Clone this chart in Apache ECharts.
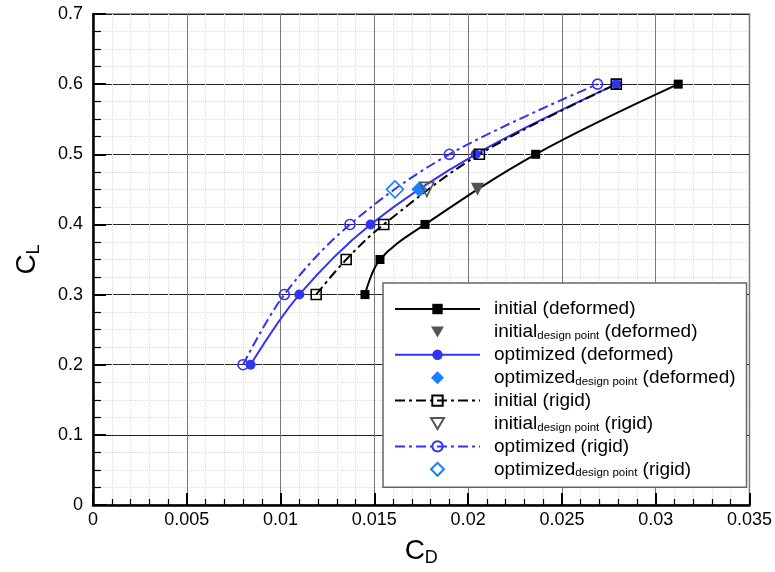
<!DOCTYPE html>
<html><head><meta charset="utf-8">
<script src="https://cdn.jsdelivr.net/npm/echarts@6/dist/echarts.min.js"></script>
<style>html,body{margin:0;padding:0;background:#fff}#c{width:775px;height:572px}</style>
</head><body><div id="c"></div>
<script>
const xTicks = [0, 0.005, 0.01, 0.015, 0.02, 0.025, 0.03, 0.035];
const yTicks = [0, 0.1, 0.2, 0.3, 0.4, 0.5, 0.6, 0.7];

const initialDeformed = [[0.0145,0.30],[0.0153,0.35],[0.0177,0.40],[0.0236,0.50],[0.0312,0.60]];
const initialDesignDeformed = [[0.0205,0.45]];
const optimizedDeformed = [[0.0084,0.20],[0.0110,0.30],[0.0148,0.40],[0.0204,0.50],[0.0279,0.60]];
const optimizedDesignDeformed = [[0.0174,0.45]];
const initialRigid = [[0.0119,0.30],[0.0135,0.35],[0.0155,0.40],[0.0206,0.50],[0.0279,0.60]];
const initialDesignRigid = [[0.0178,0.45]];
const optimizedRigid = [[0.0080,0.20],[0.0102,0.30],[0.0137,0.40],[0.0190,0.50],[0.0269,0.60]];
const optimizedDesignRigid = [[0.0161,0.45]];

const names = [
  'initial (deformed)',
  'initial{sub|design point} (deformed)',
  'optimized (deformed)',
  'optimized{sub|design point} (deformed)',
  'initial (rigid)',
  'initial{sub|design point} (rigid)',
  'optimized (rigid)',
  'optimized{sub|design point} (rigid)'
];

const BLUE = '#3333f5';
const DBLUE = '#1a80ff';
const dashDot = [10, 4, 3, 4];
const noLine = { width: 0, opacity: 0 };

// legend icons: shape centred in an 85x13 box (corner points keep the box size)
const BOX = 'M0,0 L0,0 M85,13 L85,13 ';
const triIcon = 'path://' + BOX + 'M36,1 L49,1 L42.5,12 Z';
const diaIcon = 'path://' + BOX + 'M42.5,0 L49,6.5 L42.5,13 L36,6.5 Z';

const chart = echarts.init(document.getElementById('c'));
const font = 'Liberation Sans, Arial, Helvetica, sans-serif';

chart.setOption({
  animation: false,
  textStyle: { fontFamily: font },
  grid: { left: 93, right: 24, top: 14, bottom: 65, show: true, borderColor: '#777', borderWidth: 1.5, backgroundColor: 'transparent' },
  xAxis: {
    type: 'value', min: xTicks[0], max: xTicks[xTicks.length-1], interval: 0.005,
    name: 'C{sub|D}', nameLocation: 'middle', nameGap: 30,
    nameTextStyle: { fontSize: 28, color: '#000', fontFamily: font, rich: { sub: { fontSize: 18, verticalAlign: 'bottom', padding: [14,0,0,0], fontFamily: font } } },
    axisLine: { show: true, lineStyle: { color: '#000', width: 2.5 } },
    axisTick: { show: true, inside: true, length: 12, lineStyle: { color: '#000', width: 2 } },
    minorTick: { show: true, splitNumber: 5, length: 6, lineStyle: { color: '#000', width: 1.2 } },
    axisLabel: { fontSize: 18, color: '#000', margin: 6, fontFamily: font, formatter: v => String(+v.toFixed(4)) },
    splitLine: { show: true, lineStyle: { color: '#777', width: 1 } },
    minorSplitLine: { show: true, lineStyle: { color: '#ddd', width: 1, type: 'dotted' } }
  },
  yAxis: {
    type: 'value', min: yTicks[0], max: yTicks[yTicks.length-1], interval: 0.1,
    name: 'C{sub|L}', nameLocation: 'middle', nameGap: 50, nameRotate: 90,
    nameTextStyle: { fontSize: 28, color: '#000', fontFamily: font, rich: { sub: { fontSize: 18, verticalAlign: 'bottom', padding: [14,0,0,0], fontFamily: font } } },
    axisLine: { show: true, lineStyle: { color: '#000', width: 2.5 } },
    axisTick: { show: true, inside: true, length: 13, lineStyle: { color: '#000', width: 2 } },
    minorTick: { show: true, splitNumber: 4, length: 8, lineStyle: { color: '#000', width: 1.2 } },
    axisLabel: { fontSize: 18, color: '#000', margin: 10, fontFamily: font, formatter: v => String(+v.toFixed(2)) },
    splitLine: { show: true, lineStyle: { color: '#222', width: 1 } },
    minorSplitLine: { show: true, lineStyle: { color: '#ddd', width: 1, type: 'dotted' } }
  },
  legend: {
    orient: 'vertical', left: 383, top: 283,
    padding: [16, 11, 8, 11],
    itemWidth: 85, itemHeight: 13, itemGap: 2.9,
    backgroundColor: '#fff', borderColor: '#666', borderWidth: 1.5,
    data: [
      { name: names[0] },
      { name: names[1], icon: triIcon },
      { name: names[2] },
      { name: names[3], icon: diaIcon },
      { name: names[4] },
      { name: names[5], icon: triIcon },
      { name: names[6] },
      { name: names[7], icon: diaIcon }
    ],
    textStyle: {
      fontSize: 19, color: '#000', fontFamily: font, lineHeight: 20, padding: [0,0,0,9],
      rich: { sub: { fontSize: 11.5, lineHeight: 20, verticalAlign: 'bottom', padding: [6,0,0,0], fontFamily: font, color: '#000' } }
    }
  },
  series: [
    { name: names[0], type: 'line', data: initialDeformed, smooth: 0.35, symbol: 'rect', symbolSize: 9,
      lineStyle: { color: '#000', width: 2 }, itemStyle: { color: '#000' } },
    { name: names[1], type: 'line', data: initialDesignDeformed, symbol: 'triangle', symbolRotate: 180, symbolSize: 13,
      lineStyle: noLine, itemStyle: { color: '#555' } },
    { name: names[2], type: 'line', data: optimizedDeformed, smooth: 0.35, symbol: 'circle', symbolSize: 10,
      lineStyle: { color: BLUE, width: 2 }, itemStyle: { color: BLUE } },
    { name: names[3], type: 'line', data: optimizedDesignDeformed, symbol: 'diamond', symbolSize: 16,
      lineStyle: noLine, itemStyle: { color: DBLUE } },
    { name: names[4], type: 'line', data: initialRigid, smooth: 0.35, symbol: 'rect', symbolSize: 10,
      lineStyle: { color: '#000', width: 2, type: dashDot }, itemStyle: { color: 'rgba(255,255,255,0)', borderColor: '#000', borderWidth: 1.6 } },
    { name: names[5], type: 'line', data: initialDesignRigid, symbol: 'triangle', symbolRotate: 180, symbolSize: 14,
      lineStyle: noLine, itemStyle: { color: 'rgba(255,255,255,0)', borderColor: '#555', borderWidth: 1.6 } },
    { name: names[6], type: 'line', data: optimizedRigid, smooth: 0.35, symbol: 'circle', symbolSize: 10,
      lineStyle: { color: BLUE, width: 2, type: dashDot }, itemStyle: { color: 'rgba(255,255,255,0)', borderColor: BLUE, borderWidth: 1.6 } },
    { name: names[7], type: 'line', data: optimizedDesignRigid, symbol: 'diamond', symbolSize: 17,
      lineStyle: noLine, itemStyle: { color: 'rgba(255,255,255,0)', borderColor: DBLUE, borderWidth: 1.6 } }
  ]
});
</script></body></html>
